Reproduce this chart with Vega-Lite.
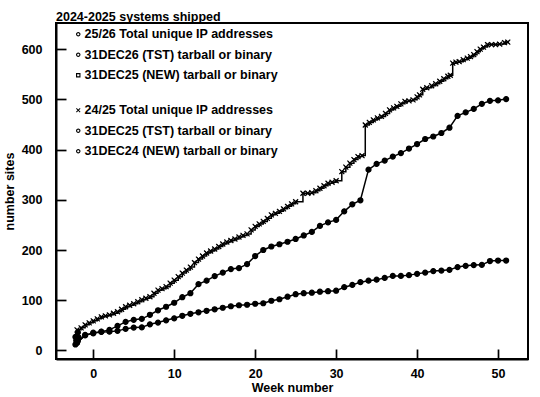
{
  "$schema": "https://vega.github.io/schema/vega-lite/v6.json",
  "width": 472,
  "height": 336,
  "autosize": "none",
  "padding": {"left": 56, "top": 23, "right": 12, "bottom": 38},
  "background": "white",
  "title": {"text": "2024-2025 systems shipped", "anchor": "start", "frame": "group", "font": "Liberation Sans", "fontSize": 12.5, "fontWeight": "bold", "color": "black", "offset": 0},
  "config": {
    "view": {"stroke": "black", "strokeWidth": 2, "fill": null},
    "axis": {"grid": false, "domain": true, "domainColor": "black", "domainWidth": 2, "ticks": true, "tickColor": "black", "tickWidth": 1.7, "tickSize": -10, "labelFont": "Liberation Sans", "labelFontSize": 12.5, "labelFontWeight": "bold", "labelColor": "black", "titleFont": "Liberation Sans", "titleFontSize": 12.5, "titleFontWeight": "bold", "titleColor": "black"},
    "legend": {"labelFont": "Liberation Sans", "labelFontSize": 12.5, "labelFontWeight": "bold", "labelColor": "black", "symbolSize": 20, "symbolStrokeWidth": 0, "rowPadding": 7.5, "padding": 0, "labelOffset": 0, "labelLimit": 400}
  },
  "data": {"values": [
    {"series": "24/25 Total unique IP addresses", "week": -2, "value": 41},
    {"series": "24/25 Total unique IP addresses", "week": -1.5, "value": 45},
    {"series": "24/25 Total unique IP addresses", "week": -1, "value": 51},
    {"series": "24/25 Total unique IP addresses", "week": -0.5, "value": 55},
    {"series": "24/25 Total unique IP addresses", "week": 0, "value": 59},
    {"series": "24/25 Total unique IP addresses", "week": 0.5, "value": 63},
    {"series": "24/25 Total unique IP addresses", "week": 1, "value": 67},
    {"series": "24/25 Total unique IP addresses", "week": 1.5, "value": 69},
    {"series": "24/25 Total unique IP addresses", "week": 2, "value": 71},
    {"series": "24/25 Total unique IP addresses", "week": 2.5, "value": 74},
    {"series": "24/25 Total unique IP addresses", "week": 3, "value": 77},
    {"series": "24/25 Total unique IP addresses", "week": 3.5, "value": 82},
    {"series": "24/25 Total unique IP addresses", "week": 4, "value": 87},
    {"series": "24/25 Total unique IP addresses", "week": 4.5, "value": 90},
    {"series": "24/25 Total unique IP addresses", "week": 5, "value": 93},
    {"series": "24/25 Total unique IP addresses", "week": 5.5, "value": 97},
    {"series": "24/25 Total unique IP addresses", "week": 6, "value": 101},
    {"series": "24/25 Total unique IP addresses", "week": 6.5, "value": 104},
    {"series": "24/25 Total unique IP addresses", "week": 7, "value": 107},
    {"series": "24/25 Total unique IP addresses", "week": 7.5, "value": 114},
    {"series": "24/25 Total unique IP addresses", "week": 8, "value": 120},
    {"series": "24/25 Total unique IP addresses", "week": 8.5, "value": 123},
    {"series": "24/25 Total unique IP addresses", "week": 9, "value": 127},
    {"series": "24/25 Total unique IP addresses", "week": 9.5, "value": 134},
    {"series": "24/25 Total unique IP addresses", "week": 10, "value": 140},
    {"series": "24/25 Total unique IP addresses", "week": 10.5, "value": 147},
    {"series": "24/25 Total unique IP addresses", "week": 11, "value": 154},
    {"series": "24/25 Total unique IP addresses", "week": 11.5, "value": 160},
    {"series": "24/25 Total unique IP addresses", "week": 12, "value": 166},
    {"series": "24/25 Total unique IP addresses", "week": 12.5, "value": 175},
    {"series": "24/25 Total unique IP addresses", "week": 13, "value": 182},
    {"series": "24/25 Total unique IP addresses", "week": 13.5, "value": 188},
    {"series": "24/25 Total unique IP addresses", "week": 14, "value": 194},
    {"series": "24/25 Total unique IP addresses", "week": 14.5, "value": 198},
    {"series": "24/25 Total unique IP addresses", "week": 15, "value": 202},
    {"series": "24/25 Total unique IP addresses", "week": 15.5, "value": 207},
    {"series": "24/25 Total unique IP addresses", "week": 16, "value": 212},
    {"series": "24/25 Total unique IP addresses", "week": 16.5, "value": 216},
    {"series": "24/25 Total unique IP addresses", "week": 17, "value": 219},
    {"series": "24/25 Total unique IP addresses", "week": 17.5, "value": 222},
    {"series": "24/25 Total unique IP addresses", "week": 18, "value": 226},
    {"series": "24/25 Total unique IP addresses", "week": 18.5, "value": 229},
    {"series": "24/25 Total unique IP addresses", "week": 19, "value": 232},
    {"series": "24/25 Total unique IP addresses", "week": 19.5, "value": 240},
    {"series": "24/25 Total unique IP addresses", "week": 20, "value": 247},
    {"series": "24/25 Total unique IP addresses", "week": 20.5, "value": 252},
    {"series": "24/25 Total unique IP addresses", "week": 21, "value": 257},
    {"series": "24/25 Total unique IP addresses", "week": 21.5, "value": 263},
    {"series": "24/25 Total unique IP addresses", "week": 22, "value": 270},
    {"series": "24/25 Total unique IP addresses", "week": 22.5, "value": 273},
    {"series": "24/25 Total unique IP addresses", "week": 23, "value": 277},
    {"series": "24/25 Total unique IP addresses", "week": 23.5, "value": 282},
    {"series": "24/25 Total unique IP addresses", "week": 24, "value": 287},
    {"series": "24/25 Total unique IP addresses", "week": 24.5, "value": 292},
    {"series": "24/25 Total unique IP addresses", "week": 25, "value": 296},
    {"series": "24/25 Total unique IP addresses", "week": 25.9, "value": 313},
    {"series": "24/25 Total unique IP addresses", "week": 26.5, "value": 313},
    {"series": "24/25 Total unique IP addresses", "week": 27, "value": 314},
    {"series": "24/25 Total unique IP addresses", "week": 27.5, "value": 318},
    {"series": "24/25 Total unique IP addresses", "week": 28, "value": 323},
    {"series": "24/25 Total unique IP addresses", "week": 28.5, "value": 328},
    {"series": "24/25 Total unique IP addresses", "week": 29, "value": 333},
    {"series": "24/25 Total unique IP addresses", "week": 29.5, "value": 335},
    {"series": "24/25 Total unique IP addresses", "week": 30, "value": 338},
    {"series": "24/25 Total unique IP addresses", "week": 30.7, "value": 356},
    {"series": "24/25 Total unique IP addresses", "week": 31.2, "value": 365},
    {"series": "24/25 Total unique IP addresses", "week": 31.7, "value": 373},
    {"series": "24/25 Total unique IP addresses", "week": 32.2, "value": 380},
    {"series": "24/25 Total unique IP addresses", "week": 32.7, "value": 386},
    {"series": "24/25 Total unique IP addresses", "week": 33.2, "value": 388},
    {"series": "24/25 Total unique IP addresses", "week": 33.6, "value": 449},
    {"series": "24/25 Total unique IP addresses", "week": 34.1, "value": 454},
    {"series": "24/25 Total unique IP addresses", "week": 34.6, "value": 459},
    {"series": "24/25 Total unique IP addresses", "week": 35.1, "value": 463},
    {"series": "24/25 Total unique IP addresses", "week": 35.6, "value": 466},
    {"series": "24/25 Total unique IP addresses", "week": 36.1, "value": 472},
    {"series": "24/25 Total unique IP addresses", "week": 36.6, "value": 479},
    {"series": "24/25 Total unique IP addresses", "week": 37.1, "value": 483},
    {"series": "24/25 Total unique IP addresses", "week": 37.5, "value": 486},
    {"series": "24/25 Total unique IP addresses", "week": 38, "value": 491},
    {"series": "24/25 Total unique IP addresses", "week": 38.5, "value": 496},
    {"series": "24/25 Total unique IP addresses", "week": 39, "value": 497},
    {"series": "24/25 Total unique IP addresses", "week": 39.5, "value": 499},
    {"series": "24/25 Total unique IP addresses", "week": 40, "value": 505},
    {"series": "24/25 Total unique IP addresses", "week": 40.3, "value": 509},
    {"series": "24/25 Total unique IP addresses", "week": 40.7, "value": 520},
    {"series": "24/25 Total unique IP addresses", "week": 41.2, "value": 523},
    {"series": "24/25 Total unique IP addresses", "week": 41.8, "value": 527},
    {"series": "24/25 Total unique IP addresses", "week": 42.3, "value": 531},
    {"series": "24/25 Total unique IP addresses", "week": 42.8, "value": 536},
    {"series": "24/25 Total unique IP addresses", "week": 43.3, "value": 541},
    {"series": "24/25 Total unique IP addresses", "week": 43.8, "value": 546},
    {"series": "24/25 Total unique IP addresses", "week": 44.1, "value": 548},
    {"series": "24/25 Total unique IP addresses", "week": 44.4, "value": 572},
    {"series": "24/25 Total unique IP addresses", "week": 44.8, "value": 574},
    {"series": "24/25 Total unique IP addresses", "week": 45.2, "value": 575},
    {"series": "24/25 Total unique IP addresses", "week": 45.7, "value": 579},
    {"series": "24/25 Total unique IP addresses", "week": 46.2, "value": 582},
    {"series": "24/25 Total unique IP addresses", "week": 46.6, "value": 585},
    {"series": "24/25 Total unique IP addresses", "week": 47, "value": 589},
    {"series": "24/25 Total unique IP addresses", "week": 47.4, "value": 595},
    {"series": "24/25 Total unique IP addresses", "week": 47.8, "value": 600},
    {"series": "24/25 Total unique IP addresses", "week": 48.2, "value": 604},
    {"series": "24/25 Total unique IP addresses", "week": 48.7, "value": 609},
    {"series": "24/25 Total unique IP addresses", "week": 49.2, "value": 609},
    {"series": "24/25 Total unique IP addresses", "week": 49.7, "value": 609},
    {"series": "24/25 Total unique IP addresses", "week": 50.2, "value": 610},
    {"series": "24/25 Total unique IP addresses", "week": 50.8, "value": 613},
    {"series": "24/25 Total unique IP addresses", "week": 51.2, "value": 614},

    {"series": "31DEC25 (TST) tarball or binary", "week": -2, "value": 16},
    {"series": "31DEC25 (TST) tarball or binary", "week": -1, "value": 30},
    {"series": "31DEC25 (TST) tarball or binary", "week": 0, "value": 35.5},
    {"series": "31DEC25 (TST) tarball or binary", "week": 1, "value": 37.5},
    {"series": "31DEC25 (TST) tarball or binary", "week": 2, "value": 41},
    {"series": "31DEC25 (TST) tarball or binary", "week": 3, "value": 49},
    {"series": "31DEC25 (TST) tarball or binary", "week": 4, "value": 57},
    {"series": "31DEC25 (TST) tarball or binary", "week": 5, "value": 61},
    {"series": "31DEC25 (TST) tarball or binary", "week": 6, "value": 63},
    {"series": "31DEC25 (TST) tarball or binary", "week": 7, "value": 71},
    {"series": "31DEC25 (TST) tarball or binary", "week": 8, "value": 80},
    {"series": "31DEC25 (TST) tarball or binary", "week": 9, "value": 87},
    {"series": "31DEC25 (TST) tarball or binary", "week": 10, "value": 95},
    {"series": "31DEC25 (TST) tarball or binary", "week": 11, "value": 106},
    {"series": "31DEC25 (TST) tarball or binary", "week": 12, "value": 114},
    {"series": "31DEC25 (TST) tarball or binary", "week": 13, "value": 132},
    {"series": "31DEC25 (TST) tarball or binary", "week": 14, "value": 139},
    {"series": "31DEC25 (TST) tarball or binary", "week": 15, "value": 148},
    {"series": "31DEC25 (TST) tarball or binary", "week": 16, "value": 155},
    {"series": "31DEC25 (TST) tarball or binary", "week": 17, "value": 162},
    {"series": "31DEC25 (TST) tarball or binary", "week": 18, "value": 164},
    {"series": "31DEC25 (TST) tarball or binary", "week": 19, "value": 172},
    {"series": "31DEC25 (TST) tarball or binary", "week": 20, "value": 188},
    {"series": "31DEC25 (TST) tarball or binary", "week": 21, "value": 200},
    {"series": "31DEC25 (TST) tarball or binary", "week": 22, "value": 207},
    {"series": "31DEC25 (TST) tarball or binary", "week": 23, "value": 211.5},
    {"series": "31DEC25 (TST) tarball or binary", "week": 24, "value": 216.5},
    {"series": "31DEC25 (TST) tarball or binary", "week": 25, "value": 222},
    {"series": "31DEC25 (TST) tarball or binary", "week": 26, "value": 229},
    {"series": "31DEC25 (TST) tarball or binary", "week": 27, "value": 236},
    {"series": "31DEC25 (TST) tarball or binary", "week": 28, "value": 248},
    {"series": "31DEC25 (TST) tarball or binary", "week": 29, "value": 255},
    {"series": "31DEC25 (TST) tarball or binary", "week": 30, "value": 260},
    {"series": "31DEC25 (TST) tarball or binary", "week": 31, "value": 277},
    {"series": "31DEC25 (TST) tarball or binary", "week": 32, "value": 291},
    {"series": "31DEC25 (TST) tarball or binary", "week": 33, "value": 299},
    {"series": "31DEC25 (TST) tarball or binary", "week": 34, "value": 360},
    {"series": "31DEC25 (TST) tarball or binary", "week": 35, "value": 371.5},
    {"series": "31DEC25 (TST) tarball or binary", "week": 36, "value": 378},
    {"series": "31DEC25 (TST) tarball or binary", "week": 37, "value": 386},
    {"series": "31DEC25 (TST) tarball or binary", "week": 38, "value": 393},
    {"series": "31DEC25 (TST) tarball or binary", "week": 39, "value": 402},
    {"series": "31DEC25 (TST) tarball or binary", "week": 40, "value": 411},
    {"series": "31DEC25 (TST) tarball or binary", "week": 41, "value": 421},
    {"series": "31DEC25 (TST) tarball or binary", "week": 42, "value": 426},
    {"series": "31DEC25 (TST) tarball or binary", "week": 43, "value": 433},
    {"series": "31DEC25 (TST) tarball or binary", "week": 44, "value": 443.5},
    {"series": "31DEC25 (TST) tarball or binary", "week": 45, "value": 467},
    {"series": "31DEC25 (TST) tarball or binary", "week": 46, "value": 474},
    {"series": "31DEC25 (TST) tarball or binary", "week": 47, "value": 481},
    {"series": "31DEC25 (TST) tarball or binary", "week": 48, "value": 491},
    {"series": "31DEC25 (TST) tarball or binary", "week": 49, "value": 497},
    {"series": "31DEC25 (TST) tarball or binary", "week": 50, "value": 498},
    {"series": "31DEC25 (TST) tarball or binary", "week": 51, "value": 500.5},

    {"series": "31DEC24 (NEW) tarball or binary", "week": -2, "value": 15},
    {"series": "31DEC24 (NEW) tarball or binary", "week": -1, "value": 31},
    {"series": "31DEC24 (NEW) tarball or binary", "week": 0, "value": 34},
    {"series": "31DEC24 (NEW) tarball or binary", "week": 1, "value": 37},
    {"series": "31DEC24 (NEW) tarball or binary", "week": 2, "value": 37.5},
    {"series": "31DEC24 (NEW) tarball or binary", "week": 3, "value": 39},
    {"series": "31DEC24 (NEW) tarball or binary", "week": 4, "value": 43},
    {"series": "31DEC24 (NEW) tarball or binary", "week": 5, "value": 45.5},
    {"series": "31DEC24 (NEW) tarball or binary", "week": 6, "value": 46},
    {"series": "31DEC24 (NEW) tarball or binary", "week": 7, "value": 52},
    {"series": "31DEC24 (NEW) tarball or binary", "week": 8, "value": 55.5},
    {"series": "31DEC24 (NEW) tarball or binary", "week": 9, "value": 60},
    {"series": "31DEC24 (NEW) tarball or binary", "week": 10, "value": 64},
    {"series": "31DEC24 (NEW) tarball or binary", "week": 11, "value": 69},
    {"series": "31DEC24 (NEW) tarball or binary", "week": 12, "value": 73},
    {"series": "31DEC24 (NEW) tarball or binary", "week": 13, "value": 76},
    {"series": "31DEC24 (NEW) tarball or binary", "week": 14, "value": 79},
    {"series": "31DEC24 (NEW) tarball or binary", "week": 15, "value": 82},
    {"series": "31DEC24 (NEW) tarball or binary", "week": 16, "value": 85},
    {"series": "31DEC24 (NEW) tarball or binary", "week": 17, "value": 88},
    {"series": "31DEC24 (NEW) tarball or binary", "week": 18, "value": 90},
    {"series": "31DEC24 (NEW) tarball or binary", "week": 19, "value": 91},
    {"series": "31DEC24 (NEW) tarball or binary", "week": 20, "value": 93},
    {"series": "31DEC24 (NEW) tarball or binary", "week": 21, "value": 94},
    {"series": "31DEC24 (NEW) tarball or binary", "week": 22, "value": 99},
    {"series": "31DEC24 (NEW) tarball or binary", "week": 23, "value": 102},
    {"series": "31DEC24 (NEW) tarball or binary", "week": 24, "value": 107},
    {"series": "31DEC24 (NEW) tarball or binary", "week": 25, "value": 112},
    {"series": "31DEC24 (NEW) tarball or binary", "week": 26, "value": 114},
    {"series": "31DEC24 (NEW) tarball or binary", "week": 27, "value": 115},
    {"series": "31DEC24 (NEW) tarball or binary", "week": 28, "value": 117},
    {"series": "31DEC24 (NEW) tarball or binary", "week": 29, "value": 118},
    {"series": "31DEC24 (NEW) tarball or binary", "week": 30, "value": 119},
    {"series": "31DEC24 (NEW) tarball or binary", "week": 31, "value": 126},
    {"series": "31DEC24 (NEW) tarball or binary", "week": 32, "value": 130.5},
    {"series": "31DEC24 (NEW) tarball or binary", "week": 33, "value": 136},
    {"series": "31DEC24 (NEW) tarball or binary", "week": 34, "value": 139},
    {"series": "31DEC24 (NEW) tarball or binary", "week": 35, "value": 141},
    {"series": "31DEC24 (NEW) tarball or binary", "week": 36, "value": 144.5},
    {"series": "31DEC24 (NEW) tarball or binary", "week": 37, "value": 148.5},
    {"series": "31DEC24 (NEW) tarball or binary", "week": 38, "value": 148.5},
    {"series": "31DEC24 (NEW) tarball or binary", "week": 39, "value": 150},
    {"series": "31DEC24 (NEW) tarball or binary", "week": 40, "value": 152.5},
    {"series": "31DEC24 (NEW) tarball or binary", "week": 41, "value": 155},
    {"series": "31DEC24 (NEW) tarball or binary", "week": 42, "value": 158},
    {"series": "31DEC24 (NEW) tarball or binary", "week": 43, "value": 159},
    {"series": "31DEC24 (NEW) tarball or binary", "week": 44, "value": 160.5},
    {"series": "31DEC24 (NEW) tarball or binary", "week": 45, "value": 166},
    {"series": "31DEC24 (NEW) tarball or binary", "week": 46, "value": 168.5},
    {"series": "31DEC24 (NEW) tarball or binary", "week": 47, "value": 170},
    {"series": "31DEC24 (NEW) tarball or binary", "week": 48, "value": 170.5},
    {"series": "31DEC24 (NEW) tarball or binary", "week": 49, "value": 178},
    {"series": "31DEC24 (NEW) tarball or binary", "week": 50, "value": 179},
    {"series": "31DEC24 (NEW) tarball or binary", "week": 51, "value": 179},

    {"series": "25/26 Total unique IP addresses", "week": -2.2, "value": 27},
    {"series": "25/26 Total unique IP addresses", "week": -1.9, "value": 36},
    {"series": "31DEC26 (TST) tarball or binary", "week": -2.2, "value": 12},
    {"series": "31DEC26 (TST) tarball or binary", "week": -1.9, "value": 19},
    {"series": "31DEC25 (NEW) tarball or binary", "week": -2.1, "value": 20},
    {"series": "31DEC25 (NEW) tarball or binary", "week": -1.8, "value": 26}
  ]},
  "encoding": {
    "x": {"field": "week", "type": "quantitative", "scale": {"domain": [-4.6, 53.7], "nice": false, "zero": false}, "axis": {"orient": "bottom", "title": "Week number", "values": [0, 10, 20, 30, 40, 50], "labelPadding": 18, "titlePadding": 2}},
    "y": {"field": "value", "type": "quantitative", "scale": {"domain": [-17, 652], "nice": false, "zero": false}, "axis": {"orient": "left", "title": "number sites", "values": [0, 100, 200, 300, 400, 500, 600], "labelPadding": 24, "titlePadding": 5}}
  },
  "layer": [
    {
      "transform": [{"filter": {"field": "series", "equal": "24/25 Total unique IP addresses"}}],
      "mark": {"type": "line", "interpolate": "step-after", "color": "black", "strokeWidth": 1.5}
    },
    {
      "transform": [{"filter": {"field": "series", "oneOf": ["31DEC25 (TST) tarball or binary", "31DEC24 (NEW) tarball or binary"]}}],
      "mark": {"type": "line", "color": "black", "strokeWidth": 1.5},
      "encoding": {"detail": {"field": "series"}}
    },
    {
      "transform": [{"filter": {"field": "series", "oneOf": ["31DEC25 (TST) tarball or binary", "31DEC24 (NEW) tarball or binary"]}}],
      "mark": {"type": "point", "shape": "circle", "filled": true, "color": "black", "stroke": "black", "strokeWidth": 1.2, "size": 25, "opacity": 1}
    },
    {
      "transform": [{"filter": {"field": "series", "equal": "24/25 Total unique IP addresses"}}],
      "mark": {"type": "point", "shape": "M-1,-1L1,1M-1,1L1,-1", "filled": false, "color": "black", "strokeWidth": 1.2, "size": 25, "opacity": 1}
    },
    {
      "transform": [{"filter": {"field": "series", "oneOf": ["24/25 Total unique IP addresses", "31DEC25 (TST) tarball or binary", "31DEC24 (NEW) tarball or binary"]}}],
      "mark": {"type": "point", "filled": true, "color": "black", "size": 16, "opacity": 1},
      "encoding": {
        "shape": {"field": "series", "type": "nominal",
          "scale": {"domain": ["24/25 Total unique IP addresses", "31DEC25 (TST) tarball or binary", "31DEC24 (NEW) tarball or binary"],
            "range": ["M-1,-0.7L-0.7,-1L1,0.7L0.7,1ZM-1,0.7L0.7,-1L1,-0.7L-0.7,1Z", "M1,0A1,1 0 1,1 -1,0A1,1 0 1,1 1,0ZM0.5,0A0.5,0.5 0 1,0 -0.5,0A0.5,0.5 0 1,0 0.5,0Z", "M1,0A1,1 0 1,1 -1,0A1,1 0 1,1 1,0ZM0.5,0A0.5,0.5 0 1,0 -0.5,0A0.5,0.5 0 1,0 0.5,0Z"]},
          "legend": {"title": null, "orient": "none", "legendX": 16, "legendY": 81}}
      }
    },
    {
      "transform": [{"filter": {"field": "series", "oneOf": ["25/26 Total unique IP addresses", "31DEC26 (TST) tarball or binary", "31DEC25 (NEW) tarball or binary"]}}],
      "mark": {"type": "line", "color": "black", "strokeWidth": 1.5},
      "encoding": {"detail": {"field": "series"}}
    },
    {
      "transform": [{"filter": {"field": "series", "oneOf": ["25/26 Total unique IP addresses", "31DEC26 (TST) tarball or binary", "31DEC25 (NEW) tarball or binary"]}}],
      "mark": {"type": "point", "shape": "circle", "filled": true, "color": "black", "stroke": "black", "strokeWidth": 1.2, "size": 25, "opacity": 1}
    },
    {
      "transform": [{"filter": {"field": "series", "oneOf": ["25/26 Total unique IP addresses", "31DEC26 (TST) tarball or binary", "31DEC25 (NEW) tarball or binary"]}}],
      "mark": {"type": "point", "filled": true, "color": "black", "size": 16, "opacity": 1},
      "encoding": {
        "shape": {"field": "series", "type": "nominal",
          "scale": {"domain": ["25/26 Total unique IP addresses", "31DEC26 (TST) tarball or binary", "31DEC25 (NEW) tarball or binary"],
            "range": ["M1,0A1,1 0 1,1 -1,0A1,1 0 1,1 1,0ZM0.5,0A0.5,0.5 0 1,0 -0.5,0A0.5,0.5 0 1,0 0.5,0Z", "M1,0A1,1 0 1,1 -1,0A1,1 0 1,1 1,0ZM0.5,0A0.5,0.5 0 1,0 -0.5,0A0.5,0.5 0 1,0 0.5,0Z", "M-1,-1H1V1H-1ZM-0.5,-0.5V0.5H0.5V-0.5Z"]},
          "legend": {"title": null, "orient": "none", "legendX": 16, "legendY": 5}}
      }
    }
  ],
  "resolve": {"scale": {"shape": "independent"}}
}
